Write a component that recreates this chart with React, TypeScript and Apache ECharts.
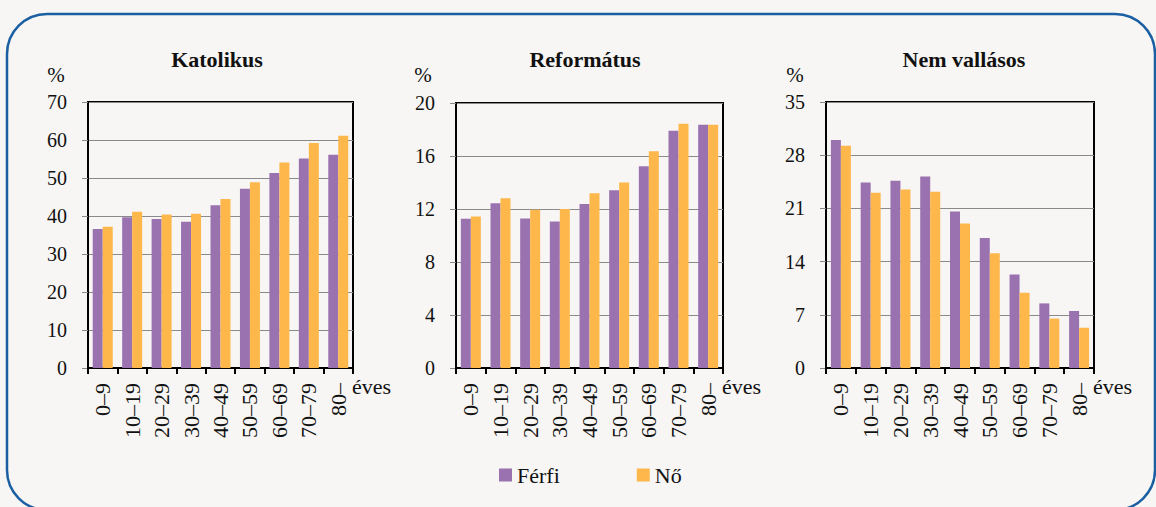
import React, { useEffect, useRef } from "react";
import * as echarts from "echarts";

const categories = ["0–9", "10–19", "20–29", "30–39", "40–49", "50–59", "60–69", "70–79", "80–"];

const katolikusFerfi = [36.6, 39.7, 39.2, 38.5, 42.8, 47.2, 51.3, 55.1, 56.1];
const katolikusNo = [37.2, 41.1, 40.4, 40.6, 44.5, 48.9, 54.1, 59.2, 61.1];

const reformatusFerfi = [11.27, 12.43, 11.29, 11.06, 12.38, 13.42, 15.22, 17.9, 18.35];
const reformatusNo = [11.44, 12.81, 11.95, 12.0, 13.19, 14.0, 16.35, 18.43, 18.35];

const nemVallasosFerfi = [30.0, 24.4, 24.65, 25.2, 20.6, 17.1, 12.3, 8.5, 7.5];
const nemVallasosNo = [29.25, 23.07, 23.5, 23.2, 19.0, 15.1, 9.9, 6.5, 5.3];

const panelTitles = ["Katolikus", "Református", "Nem vallásos"];
const yMax = [70, 20, 35];
const yInterval = [10, 4, 7];
const seriesNames = ["Férfi", "Nő"];

const FONT = "Liberation Serif";
const PURPLE = "#9b72b0";
const ORANGE = "#fdb74b";
const BG = "#f7f6f4";

const grids = [
  { left: 88, top: 102, width: 265, height: 266 },
  { left: 456, top: 103, width: 267, height: 265 },
  { left: 826, top: 102, width: 268, height: 266 },
];
const titleX = [217, 585, 964];
const percentX = [56, 423, 795];

export default function App() {
  const ref = useRef<HTMLDivElement>(null);
  useEffect(() => {
    document.body.style.margin = "0";
    document.body.style.background = BG;
    const chart = echarts.init(ref.current!, null, { renderer: "svg" });
    const data = [
      [katolikusFerfi, katolikusNo],
      [reformatusFerfi, reformatusNo],
      [nemVallasosFerfi, nemVallasosNo],
    ];
    const series: any[] = [];
    data.forEach((pair, i) => {
      pair.forEach((vals, j) => {
        series.push({
          type: "bar",
          name: seriesNames[j],
          xAxisIndex: i,
          yAxisIndex: i,
          data: vals,
          barWidth: 10,
          barGap: "0%",
          itemStyle: { color: j === 0 ? PURPLE : ORANGE },
        });
      });
    });
    const graphics: any[] = [
      {
        type: "rect",
        shape: { x: 7, y: 14, width: 1148, height: 496, r: 40 },
        style: { fill: "none", stroke: "#1a5fa2", lineWidth: 2.5 },
        z: 0,
      },
    ];
    panelTitles.forEach((t, i) => {
      graphics.push({
        type: "text",
        x: titleX[i],
        y: 59,
        style: {
          text: t,
          fontFamily: FONT,
          fontSize: 22,
          fontWeight: "bold",
          fill: "#111",
          align: "center",
          verticalAlign: "middle",
        },
      });
      graphics.push({
        type: "text",
        x: percentX[i],
        y: 75,
        style: {
          text: "%",
          fontFamily: FONT,
          fontSize: 21,
          fill: "#111",
          align: "center",
          verticalAlign: "middle",
        },
      });
      graphics.push({
        type: "text",
        x: grids[i].left + grids[i].width - 1,
        y: 386,
        style: {
          text: "éves",
          fontFamily: FONT,
          fontSize: 22,
          fill: "#111",
          align: "left",
          verticalAlign: "middle",
        },
      });
    });

    chart.setOption({
      animation: false,
      backgroundColor: BG,
      textStyle: { fontFamily: FONT },
      legend: {
        data: seriesNames,
        left: 499,
        top: 464,
        padding: 0,
        icon: "rect",
        itemWidth: 13,
        itemHeight: 13,
        itemGap: 77,
        textStyle: { fontFamily: FONT, fontSize: 22, color: "#111" },
      },
      grid: grids.map((g) => ({
        ...g,
        show: true,
        borderColor: "#000",
        borderWidth: 2,
        backgroundColor: "transparent",
      })),
      xAxis: grids.map((_, i) => ({
        type: "category",
        gridIndex: i,
        data: categories,
        axisLine: { lineStyle: { color: "#000", width: 2 } },
        axisTick: { show: true, length: 6, lineStyle: { color: "#000", width: 2 } },
        axisLabel: {
          rotate: 90,
          margin: 15,
          fontFamily: FONT,
          fontSize: 22,
          color: "#111",
          interval: 0,
        },
      })),
      yAxis: grids.map((_, i) => ({
        type: "value",
        gridIndex: i,
        min: 0,
        max: yMax[i],
        interval: yInterval[i],
        axisLine: { show: true, lineStyle: { color: "#000", width: 2 } },
        axisTick: { show: true, length: 6, lineStyle: { color: "#888", width: 1 } },
        splitLine: { show: true, lineStyle: { color: "#8a8a8a", width: 1 } },
        axisLabel: {
          margin: 21,
          fontFamily: FONT,
          fontSize: 20,
          color: "#111",
        },
      })),
      series,
      graphic: graphics,
    });
    return () => chart.dispose();
  }, []);
  return (
    <div
      ref={ref}
      style={{ position: "fixed", left: 0, top: 0, width: 1156, height: 507, background: BG }}
    />
  );
}
